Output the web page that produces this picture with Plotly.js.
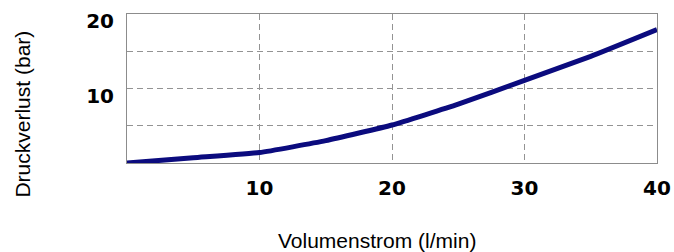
<!DOCTYPE html>
<html>
<head>
<meta charset="utf-8">
<script src="https://cdn.plot.ly/plotly-3.0.1.min.js"></script>
<style>html,body{margin:0;padding:0;background:#fff;}</style>
</head>
<body>
<div id="chart" style="width:674px;height:252px;"></div>
<script>
const flow = [0, 5, 10, 15, 20, 25, 30, 35, 40];
const pressureLoss = [0, 0.7, 1.4, 3.0, 5.1, 7.9, 11.1, 14.3, 17.9];
const xTicks = [10, 20, 30, 40];
const yTicks = [10, 20];
const xTitle = 'Volumenstrom (l/min)';
const yTitle = 'Druckverlust (bar)';

const font = 'Liberation Sans, Arial, sans-serif';
const tickFontFamily = 'DejaVu Sans, Liberation Sans, sans-serif';

const trace = {
  x: flow, y: pressureLoss, type: 'scatter', mode: 'lines',
  line: {color: '#0b0b7e', width: 5, shape: 'spline', smoothing: 0.4},
  hoverinfo: 'skip', showlegend: false
};

const layout = {
  width: 674, height: 252,
  margin: {l: 127, r: 17, t: 14, b: 89},
  paper_bgcolor: '#ffffff', plot_bgcolor: '#ffffff',
  font: {family: font, color: '#000'},
  xaxis: {
    range: [0, 40], tickvals: xTicks, ticktext: xTicks.map(String),
    showgrid: true, gridcolor: '#939393', griddash: '6px,4px', gridwidth: 1,
    showline: true, linecolor: '#8c8c8c', linewidth: 1, mirror: true,
    ticks: '', zeroline: false, ticklabelstandoff: 7,
    tickfont: {family: tickFontFamily, size: 20, color: '#000', weight: 'bold'}
  },
  yaxis: {
    range: [0, 20], tickvals: yTicks, ticktext: yTicks.map(String),
    showgrid: true, gridcolor: '#939393', griddash: '6px,4px', gridwidth: 1,
    minor: {tick0: 0, dtick: 5, showgrid: true, gridcolor: '#939393', griddash: '6px,4px', gridwidth: 1, ticks: ''},
    showline: true, linecolor: '#8c8c8c', linewidth: 1, mirror: true,
    ticks: '', zeroline: false, ticklabelstandoff: 8, ticklabelshift: 7,
    tickfont: {family: tickFontFamily, size: 20, color: '#000', weight: 'bold'}
  },
  annotations: [
    {text: xTitle, xref: 'paper', yref: 'paper', x: 0.4717, y: -0.517,
     xanchor: 'center', yanchor: 'middle', showarrow: false,
     font: {family: font, size: 21, color: '#000'}},
    {text: yTitle, xref: 'paper', yref: 'paper', x: -0.198, y: 0.3255,
     xanchor: 'center', yanchor: 'middle', showarrow: false, textangle: -90,
     font: {family: font, size: 21, color: '#000'}}
  ]
};

Plotly.newPlot('chart', [trace], layout, {staticPlot: true, displayModeBar: false});
</script>
</body>
</html>
